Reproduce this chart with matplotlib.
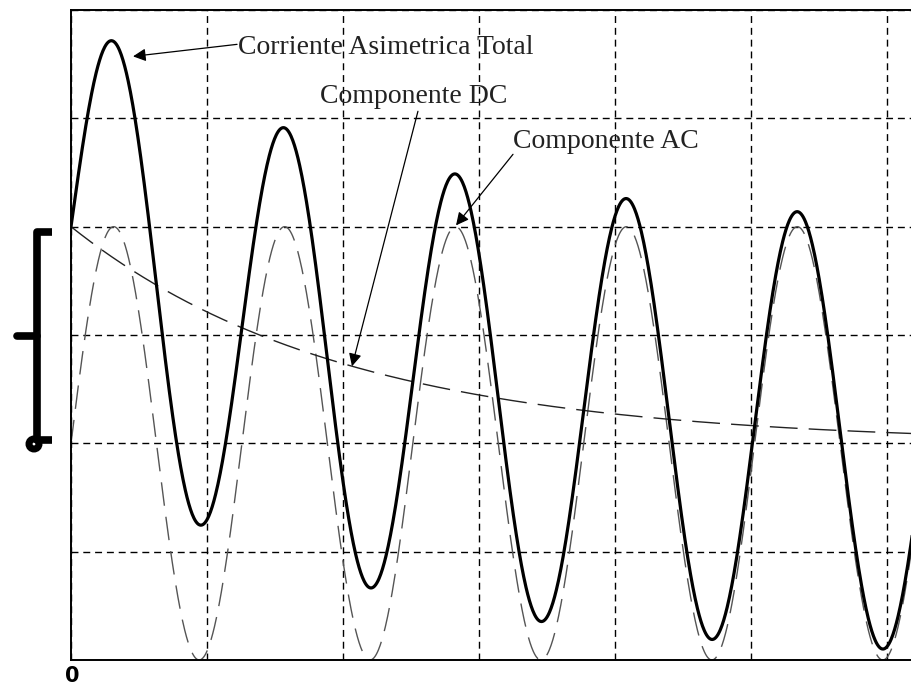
import numpy as np
import matplotlib.pyplot as plt
from matplotlib.path import Path
from matplotlib.patches import PathPatch, Circle

# curve parameters (units = grid divisions)
ac_amp = 2.0      # peak of the AC component
ac_omega = 5.0    # rad per division (period ~1.26 div)
dc_start = 2.0    # DC component at t = 0
dc_tau = 2.0      # decay constant of the DC component
t_end = 6.3

x_ticks = [0, 1, 2, 3, 4, 5, 6]
y_ticks = [-2, -1, 0, 1, 2, 3, 4]

labels = ["Corriente Asimetrica Total", "Componente DC", "Componente AC"]
label_pos = [(1.228, 3.59), (1.831, 3.139), (3.25, 2.723)]
arrow_from = [(1.221, 3.683), (2.551, 3.065), (3.25, 2.668)]
arrow_to = [(0.456, 3.572), (2.066, 0.711), (2.831, 2.012)]

t = np.linspace(0, t_end, 1500)
ac = ac_amp * np.sin(ac_omega * t)
dc = dc_start * np.exp(-t / dc_tau)
total = ac + dc

W, H = 912, 689
fig = plt.figure(figsize=(W / 100, H / 100), dpi=100)
ax = fig.add_axes([71 / W, 29 / H, t_end * 136 / W, 650 / H])

ax.plot(t, ac, color='#555555', lw=1.0, linestyle=(0, (17, 8)))
ax.plot(t, dc, color='#222222', lw=1.0, linestyle=(0, (20, 8)))
ax.plot(t, total, color='black', lw=2.3)

ax.set_xlim(0, t_end)
ax.set_ylim(-2, 4)
ax.set_xticks(x_ticks)
ax.set_yticks(y_ticks)
ax.set_xticklabels([])
ax.set_yticklabels([])
ax.tick_params(length=0)
ax.grid(True, color='black', lw=1.0, linestyle=(0, (5, 3.5)))
for s in ax.spines.values():
    s.set_linewidth(1.4)

for txt, p, a0, a1 in zip(labels, label_pos, arrow_from, arrow_to):
    ax.text(p[0], p[1], txt, ha='left', va='baseline', fontsize=20,
            family='Liberation Serif', color='#222222')
    ax.annotate('', xy=a1, xytext=a0,
                arrowprops=dict(arrowstyle='-|>', color='black', lw=0.9,
                                mutation_scale=19, shrinkA=0, shrinkB=0))

# bracket and "0" on the left, drawn in pixel coordinates
ov = fig.add_axes([0, 0, 1, 1], facecolor='none')
ov.set_xlim(0, W)
ov.set_ylim(H, 0)
ov.axis('off')
verts = [(52, 232), (37, 232), (37, 232), (37, 247), (37, 440), (52, 440)]
codes = [Path.MOVETO, Path.LINETO, Path.CURVE3, Path.CURVE3, Path.LINETO, Path.LINETO]
ov.add_patch(PathPatch(Path(verts, codes), fc='none', ec='black', lw=5.5,
                       capstyle='butt', joinstyle='round'))
ov.plot([17, 37], [336, 336], color='black', lw=5.5, solid_capstyle='round')
ov.add_patch(Circle((34, 444), 5, fc='none', ec='black', lw=5))
ov.text(72, 686, '0', ha='center', va='bottom', fontsize=15, fontweight='bold')

fig.savefig('out.png', dpi=100)
